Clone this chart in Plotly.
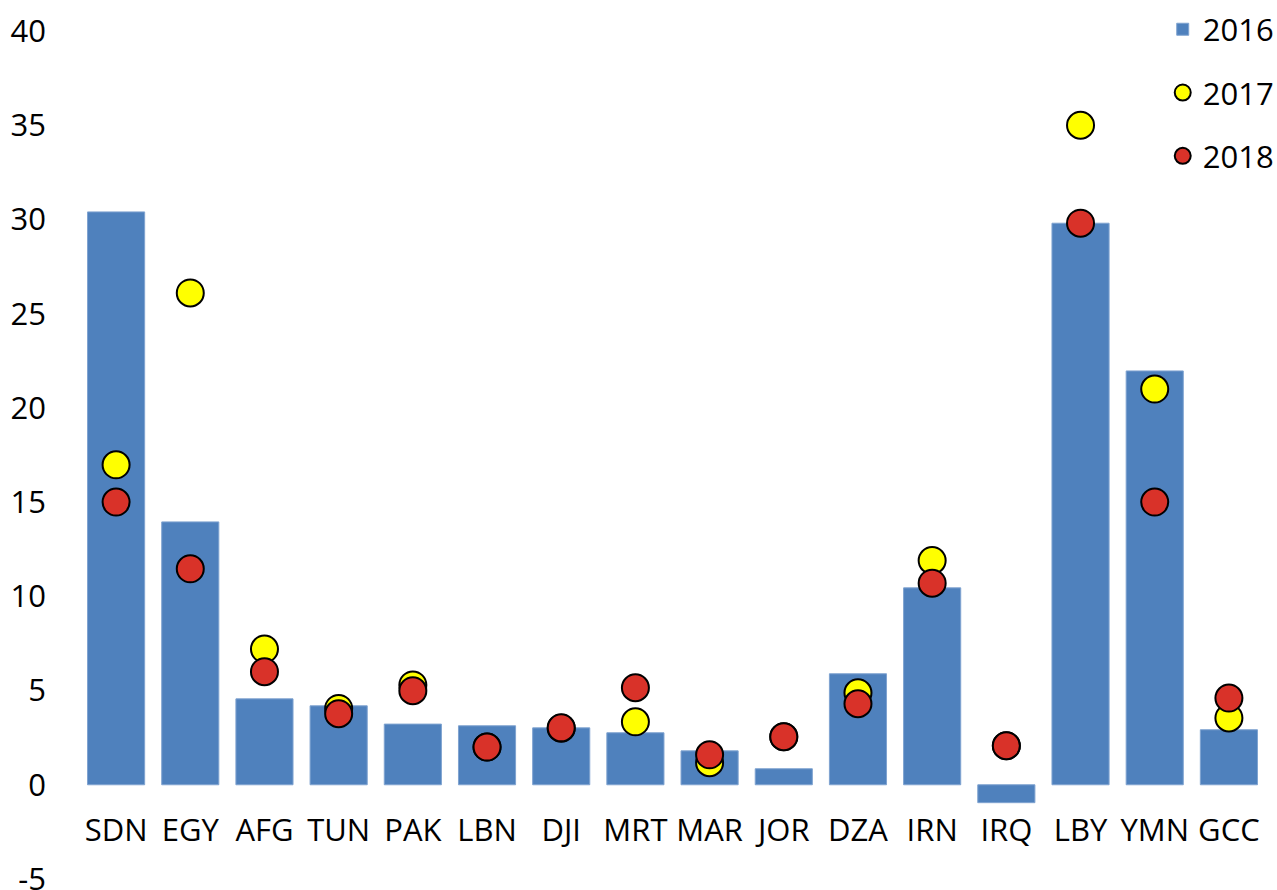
import plotly.graph_objects as go

categories = ["SDN", "EGY", "AFG", "TUN", "PAK", "LBN", "DJI", "MRT", "MAR", "JOR", "DZA", "IRN", "IRQ", "LBY", "YMN", "GCC"]
values_2016 = [30.4, 13.95, 4.56, 4.19, 3.22, 3.13, 3.02, 2.76, 1.80, 0.85, 5.89, 10.45, -0.95, 29.8, 21.96, 2.92]
values_2017 = [16.98, 26.1, 7.2, 4.05, 5.3, 2.0, 3.0, 3.34, 1.17, 2.55, 4.88, 11.9, 2.07, 35.0, 21.0, 3.55]
values_2018 = [15.0, 11.46, 6.0, 3.77, 4.99, 2.0, 3.02, 5.15, 1.59, 2.55, 4.3, 10.7, 2.07, 29.8, 15.0, 4.6]
y_ticks = [-5, 0, 5, 10, 15, 20, 25, 30, 35, 40]
y_tick_labels = ["-5", "0", "5", "10", "15", "20", "25", "30", "35", "40"]
y_min, y_max = -5, 40

FONT = "Open Sans"
FS = 31

fig = go.Figure()
fig.add_trace(go.Bar(
    x=categories, y=values_2016, name="2016",
    marker=dict(color="#4F81BD", line=dict(color="#7FA3D0", width=1)),
    legendgroup="a",
))
fig.add_trace(go.Scatter(
    x=categories, y=values_2017, name="2017", mode="markers",
    marker=dict(color="#FFFF00", size=27, line=dict(color="#000000", width=2)),
    legendgroup="b",
))
fig.add_trace(go.Scatter(
    x=categories, y=values_2018, name="2018", mode="markers",
    marker=dict(color="#D93229", size=27, line=dict(color="#000000", width=2)),
    legendgroup="c",
))

fig.update_layout(
    width=1277, height=890,
    margin=dict(l=79, r=11, t=31, b=11, autoexpand=False),
    paper_bgcolor="white", plot_bgcolor="white",
    font=dict(family=FONT, size=FS, color="#000000"),
    bargap=0.23,
    showlegend=True,
    legend=dict(
        x=0.913, xanchor="left", y=1.0335, yanchor="top",
        bgcolor="rgba(0,0,0,0)", traceorder="grouped", tracegroupgap=20,
        font=dict(family=FONT, size=FS), itemwidth=30,
    ),
    xaxis=dict(
        type="category", anchor="free", automargin=False,
        range=[-0.5, len(categories) - 0.5],
        position=(0 - y_min) / (y_max - y_min),
        showline=False, showgrid=False, zeroline=False,
        ticks="outside", ticklen=18, tickcolor="rgba(0,0,0,0)",
        tickfont=dict(family=FONT, size=FS),
    ),
    yaxis=dict(
        range=[y_min, y_max], tickvals=y_ticks, ticktext=y_tick_labels,
        automargin=False,
        showline=False, showgrid=False, zeroline=False,
        ticklabelstandoff=32, ticklabeloverflow="allow",
        tickfont=dict(family=FONT, size=FS),
    ),
)

fig.write_html(
    "out.html",
    config={"displayModeBar": False},
    post_script="document.body.style.margin='0px';document.body.style.overflow='hidden';",
)
